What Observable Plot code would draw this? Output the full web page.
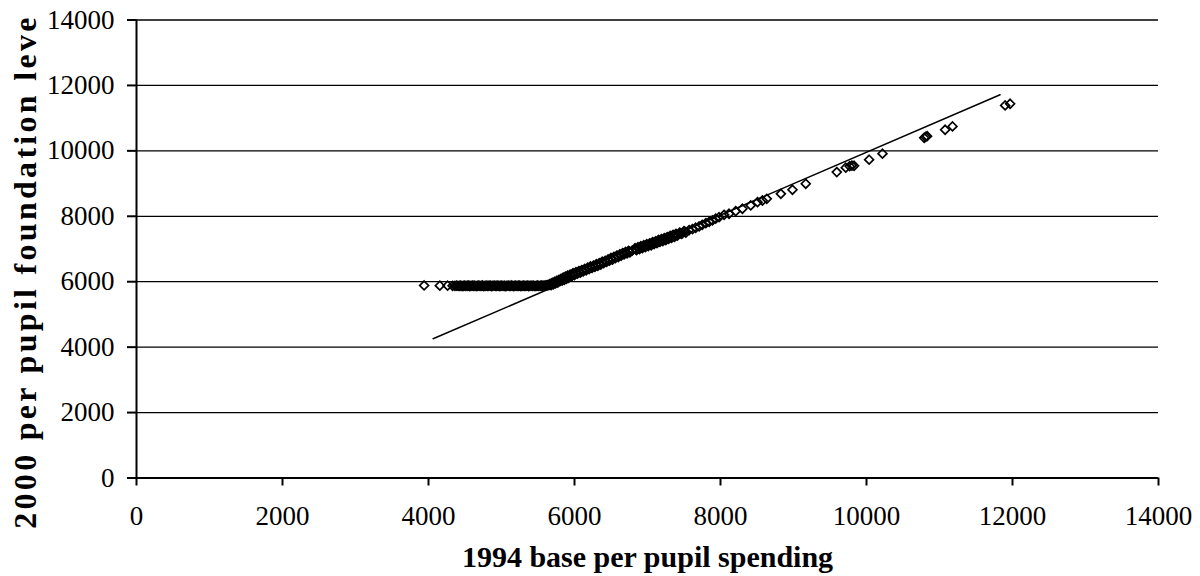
<!DOCTYPE html>
<html><head><meta charset="utf-8">
<script src="https://cdn.jsdelivr.net/npm/d3@7"></script>
<script src="https://cdn.jsdelivr.net/npm/@observablehq/plot@0.6"></script>
<style>
html,body{margin:0;padding:0;background:#fff;}
#chart svg{font-family:"Liberation Serif","Times New Roman",serif;display:block;}
.ytitle text{letter-spacing:3.3px;}
</style></head><body><div id="chart"></div>
<script>
const xTicks = [0,2000,4000,6000,8000,10000,12000,14000];
const yTicks = [0,2000,4000,6000,8000,10000,12000,14000];
const xTitle = "1994 base per pupil spending";
const yTitle = "2000 per pupil foundation leve";

// districts at the foundation floor
const flatX = [3940,4155,4262,4330,4362,4385,4405,4425,4442,4460,
  4478,4495,4512,4530,4548,4565,4582,4600,4618,4635,
  4652,4670,4688,4705,4722,4740,4758,4775,4792,4810,
  4828,4845,4862,4880,4898,4915,4932,4950,4968,4985,
  5002,5020,5038,5055,5072,5090,5108,5125,5142,5160,
  5178,5195,5212,5230,5248,5265,5282,5300,5318,5335,
  5352,5370,5388,5405,5422,5440,5458,5475,5492,5510,
  5528,5545,5562,5580,5598,5615,5632,5648];
const flatY = [5885,5880,5878,5875,5872,5880,5870,5876,5882,5868,
  5874,5879,5871,5877,5883,5869,5875,5880,5872,5878,
  5866,5874,5881,5870,5876,5884,5868,5873,5879,5871,
  5877,5882,5867,5875,5880,5870,5876,5883,5869,5874,
  5879,5871,5877,5865,5873,5881,5870,5876,5884,5868,
  5875,5879,5872,5877,5882,5866,5874,5880,5871,5876,
  5883,5869,5875,5879,5872,5878,5867,5873,5881,5870,
  5876,5884,5872,5878,5885,5890,5895,5900];

// rising band
const riseX = [5665,5680,5695,5710,5725,5740,5755,5770,5785,5800,
  5815,5830,5845,5860,5875,5890,5905,5920,5940,5960,
  5980,6000,6020,6040,6060,6080,6100,6120,6140,6160,
  6180,6200,6220,6240,6260,6280,6300,6320,6340,6360,
  6380,6400,6420,6440,6460,6480,6500,6520,6540,6560,
  6580,6600,6620,6640,6660,6680,6700,6720,6740,6760,
  6830,6850,6870,6890,6910,6930,6950,6970,6990,7010,
  7030,7050,7070,7090,7110,7130,7150,7170,7190,7210,
  7230,7250,7270,7290,7310,7330,7350,7370,7390,7410,
  7440,7470,7500,7525,7570,7616];
const riseY = [5930,5895,5965,5920,5995,5950,6025,5975,6055,6015,
  6090,6035,6125,6060,6155,6090,6185,6115,6220,6160,
  6260,6205,6290,6245,6325,6275,6355,6315,6390,6350,
  6430,6385,6465,6420,6495,6455,6535,6485,6565,6525,
  6610,6565,6640,6605,6680,6645,6725,6675,6760,6720,
  6800,6755,6835,6795,6875,6835,6910,6865,6945,6895,
  7025,6965,7055,6995,7085,7025,7115,7055,7145,7085,
  7175,7115,7210,7150,7235,7180,7275,7215,7305,7245,
  7335,7275,7365,7310,7400,7340,7435,7370,7465,7410,
  7500,7465,7545,7500,7580,7610];

// more districts inside the rising band
const rise2X = [5672,5702,5732,5762,5792,5822,5852,5882,5912,5950,
  5990,6030,6070,6110,6150,6190,6230,6270,6310,6350,
  6390,6430,6470,6510,6550,6590,6630,6670,6710,6750,
  6790,6840,6880,6920,6960,7000,7040,7080,7120,7160,
  7200,7240,7280,7320,7360,7400,7455,7510];
const rise2Y = [5915,5945,5970,6000,6035,6065,6090,6120,6150,6190,
  6230,6270,6300,6335,6370,6410,6440,6475,6510,6545,
  6585,6625,6660,6700,6740,6780,6815,6855,6890,6920,
  6950,6995,7025,7055,7085,7115,7145,7180,7210,7245,
  7275,7305,7340,7370,7400,7435,7480,7530];

// higher-spending districts
const highX = [7660,7707,7750,7799,7845,7890,7935,7981,8049,8117,
  8208,8300,8414,8507,8575,8634,8827,8986,9168,9593,
  9716,9770,9800,9830,10036,10219,10790,10810,10830,11077,
  11178,11899,11967];
const highY = [7650,7689,7740,7790,7830,7872,7930,7973,8046,8077,
  8157,8230,8331,8432,8483,8535,8688,8811,8994,9352,
  9486,9530,9550,9545,9730,9914,10400,10430,10450,10645,
  10746,11388,11440];

// linear trend line endpoints
const trendX = [4063, 11830];
const trendY = [4255, 11715];

const allX = [...flatX, ...riseX, ...rise2X, ...highX];
const allY = [...flatY, ...riseY, ...rise2Y, ...highY];
const points = allX.map((x, i) => ({x, y: allY[i]}));
const trend = trendX.map((x, i) => ({x, y: trendY[i]}));

const fmt = d => String(d);

const chart = Plot.plot({
  width: 1200,
  height: 576,
  marginLeft: 136,
  marginRight: 42,
  marginTop: 19.5,
  marginBottom: 98.5,
  style: {fontFamily: '"Liberation Serif","Times New Roman",serif', background: "#fff", color: "#000", overflow: "visible"},
  x: {domain: [0, 14000]},
  y: {domain: [0, 14000]},
  marks: [
    Plot.ruleY(yTicks.filter(d => d > 0), {stroke: "#000", strokeWidth: 1.3}),
    Plot.axisY({ticks: yTicks, tickSize: 9, tickPadding: 13, fontSize: 27, label: null, tickFormat: fmt, strokeWidth: 2}),
    Plot.axisX({ticks: xTicks, tickSize: 8, tickPadding: 20, fontSize: 27, label: null, tickFormat: fmt, strokeWidth: 2}),
    Plot.ruleY([0], {stroke: "#000", strokeWidth: 2}),
    Plot.ruleX([0], {stroke: "#000", strokeWidth: 2}),
    Plot.line(trend, {x: "x", y: "y", stroke: "#000", strokeWidth: 1.5}),
    Plot.dot(points, {x: "x", y: "y", symbol: "diamond2", r: 4, stroke: "#000", strokeWidth: 1.7, fill: "none"}),
    Plot.text([xTitle], {text: d => d, frameAnchor: "bottom", lineAnchor: "bottom", dy: 89, fontSize: 30, fontWeight: "bold", fill: "#000"}),
    Plot.text([yTitle], {text: d => d, frameAnchor: "left", textAnchor: "middle", lineAnchor: "middle", rotate: -90, dx: -111.2, dy: 22.5, fontSize: 32, fontWeight: "bold", fill: "#000", className: "ytitle"})
  ]
});
document.getElementById("chart").appendChild(chart);
</script>
</body></html>
